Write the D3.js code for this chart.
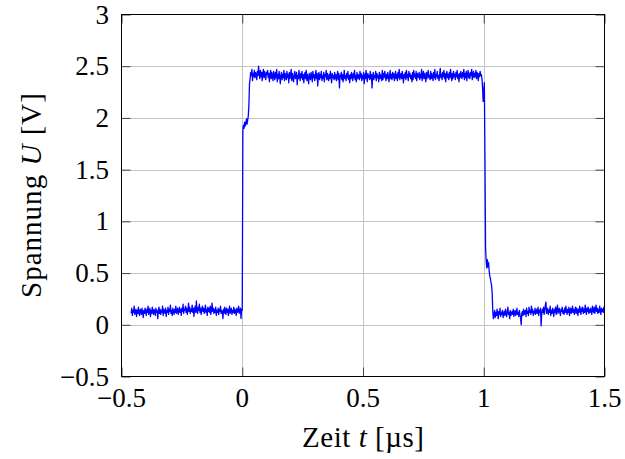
<!DOCTYPE html>
<html>
<head>
<meta charset="utf-8">
<script src="https://cdn.jsdelivr.net/npm/d3@7"></script>
<style>
  html, body { margin: 0; padding: 0; background: #fff; }
  svg { display: block; }
  text { font-family: "Liberation Serif", "DejaVu Serif", serif; }
</style>
</head>
<body>
<svg id="chart" width="625" height="459"></svg>
<script>
// ---------------- data ----------------
const xTicks = [-0.5, 0, 0.5, 1, 1.5];
const xTickLabels = ["\u22120.5", "0", "0.5", "1", "1.5"];
const yTicks = [-0.5, 0, 0.5, 1, 1.5, 2, 2.5, 3];
const yTickLabels = ["\u22120.5", "0", "0.5", "1", "1.5", "2", "2.5", "3"];

const sampleStep = 0.0025;         // µs between oscilloscope samples
const firstSampleTime = -0.46;     // µs

// t = -0.46 … 0.000
const baselineBefore = [
  0.11,0.16,0.09,0.14,0.12,0.18,0.10,0.13,0.15,0.08,
  0.14,0.11,0.17,0.12,0.09,0.15,0.13,0.10,0.16,0.12,
  0.07,0.14,0.11,0.16,0.13,0.09,0.15,0.12,0.18,0.10,
  0.13,0.16,0.08,0.14,0.11,0.17,0.12,0.10,0.15,0.13,
  0.09,0.16,0.12,0.14,0.06,0.13,0.17,0.11,0.15,0.10,
  0.14,0.12,0.18,0.09,0.15,0.13,0.11,0.16,0.08,0.14,
  0.12,0.17,0.10,0.15,0.13,0.19,0.11,0.14,0.09,0.16,
  0.13,0.10,0.15,0.12,0.18,0.11,0.14,0.16,0.10,0.13,
  0.17,0.12,0.15,0.09,0.16,0.13,0.20,0.11,0.15,0.14,
  0.18,0.12,0.16,0.10,0.14,0.21,0.13,0.17,0.11,0.15,
  0.13,0.19,0.12,0.16,0.08,0.15,0.18,0.12,0.23,0.14,
  0.11,0.17,0.14,0.20,0.12,0.16,0.10,0.15,0.18,0.13,
  0.16,0.11,0.14,0.19,0.12,0.15,0.09,0.17,0.13,0.16,
  0.12,0.18,0.10,0.14,0.21,0.13,0.16,0.11,0.15,0.12,
  0.17,0.09,0.14,0.12,0.16,0.10,0.15,0.13,0.18,0.11,
  0.14,0.12,0.06,0.15,0.11,0.17,0.13,0.10,0.16,0.12,
  0.15,0.09,0.14,0.18,0.11,0.13,0.16,0.10,0.14,0.12,
  0.17,0.11,0.15,0.13,0.09,0.16,0.12,0.14,0.18,0.11,
  0.13,0.16,0.06,0.15,0.14
];
// t = 0.0025 … 0.030
const riseEdge = [1.88,1.93,1.90,1.96,1.92,1.95,1.99,1.94,1.98,2.02,2.12,2.33];
// t = 0.0325 … 0.9875
const plateau = [
  2.38,2.44,2.41,2.47,2.36,2.43,2.40,2.46,2.39,2.44,
  2.42,2.37,2.45,2.41,2.50,2.43,2.38,2.46,2.40,2.44,
  2.36,2.43,2.47,2.39,2.45,2.41,2.37,2.44,2.42,2.46,
  2.39,2.43,2.35,2.42,2.46,2.38,2.44,2.40,2.36,2.45,
  2.41,2.37,2.44,2.39,2.47,2.35,2.42,2.38,2.45,2.40,
  2.33,2.41,2.44,2.37,2.42,2.39,2.46,2.36,2.43,2.40,
  2.37,2.45,2.39,2.42,2.34,2.44,2.38,2.41,2.47,2.36,
  2.43,2.39,2.35,2.42,2.45,2.38,2.40,2.44,2.32,2.41,
  2.38,2.46,2.40,2.36,2.43,2.39,2.45,2.37,2.42,2.34,
  2.41,2.44,2.38,2.46,2.36,2.42,2.39,2.33,2.43,2.40,
  2.37,2.44,2.41,2.35,2.45,2.39,2.42,2.36,2.40,2.46,
  2.38,2.43,2.31,2.40,2.44,2.37,2.42,2.39,2.45,2.36,
  2.41,2.38,2.44,2.35,2.42,2.40,2.46,2.37,2.43,2.39,
  2.36,2.42,2.38,2.45,2.40,2.34,2.43,2.39,2.41,2.37,
  2.44,2.38,2.42,2.36,2.40,2.45,2.37,2.43,2.29,2.41,
  2.39,2.44,2.37,2.42,2.35,2.40,2.46,2.38,2.41,2.36,
  2.43,2.39,2.45,2.37,2.41,2.34,2.42,2.38,2.44,2.40,
  2.36,2.43,2.39,2.46,2.37,2.41,2.35,2.44,2.38,2.42,
  2.40,2.37,2.45,2.39,2.43,2.36,2.41,2.38,2.44,2.33,
  2.42,2.38,2.46,2.40,2.35,2.43,2.39,2.41,2.37,2.45,
  2.38,2.42,2.29,2.40,2.44,2.37,2.41,2.39,2.45,2.36,
  2.43,2.39,2.41,2.35,2.44,2.38,2.42,2.40,2.36,2.46,
  2.37,2.43,2.39,2.45,2.41,2.36,2.42,2.38,2.44,2.40,
  2.35,2.41,2.46,2.38,2.42,2.37,2.44,2.39,2.43,2.36,
  2.40,2.45,2.38,2.42,2.36,2.44,2.39,2.47,2.37,2.41,
  2.43,2.38,2.45,2.40,2.34,2.42,2.39,2.44,2.37,2.46,
  2.39,2.42,2.36,2.45,2.40,2.43,2.38,2.41,2.35,2.44,
  2.37,2.46,2.40,2.42,2.38,2.45,2.36,2.43,2.41,2.39,
  2.44,2.37,2.42,2.39,2.47,2.36,2.41,2.45,2.38,2.43,
  2.40,2.35,2.44,2.38,2.42,2.46,2.39,2.41,2.37,2.45,
  2.38,2.43,2.40,2.36,2.44,2.39,2.47,2.37,2.42,2.40,
  2.45,2.38,2.41,2.36,2.43,2.48,2.39,2.42,2.37,2.44,
  2.40,2.46,2.38,2.43,2.35,2.41,2.45,2.39,2.42,2.37,
  2.44,2.39,2.47,2.41,2.36,2.43,2.38,2.45,2.40,2.42,
  2.37,2.44,2.40,2.46,2.38,2.42,2.35,2.43,2.39,2.45,
  2.41,2.38,2.44,2.40,2.47,2.37,2.43,2.39,2.45,2.36,
  2.42,2.46,2.39,2.43,2.38,2.44,2.41,2.47,2.37,2.42,
  2.45,2.39,2.43,2.40,2.46,2.38,2.44,2.41,2.36,2.43,
  2.40,2.45,2.41
];
// t = 0.990 … 1.040
const fallEdge = [2.42,2.38,2.30,2.16,2.25,2.34,1.60,0.75,0.62,0.55,
                  0.63,0.56,0.60,0.52,0.47,0.45,0.41,0.38,0.30,0.12,0.06];
// t = 1.0425 … 1.500
const baselineAfter = [
  0.10,0.14,0.07,0.12,0.09,0.15,0.11,0.06,0.13,0.10,
  0.16,0.08,0.12,0.10,0.14,0.07,0.11,0.13,0.09,0.15,
  0.11,0.08,0.13,0.17,0.10,0.12,0.06,0.14,0.09,0.11,
  0.13,0.10,0.15,0.08,0.12,0.14,0.09,0.11,0.16,0.10,
  0.12,0.08,0.14,0.10,0.07,0.00,0.11,0.13,0.09,0.15,
  0.10,0.12,0.14,0.08,0.16,0.11,0.13,0.09,0.17,0.12,
  0.14,0.10,0.18,0.12,0.15,0.09,0.13,0.11,0.16,0.10,
  0.13,0.15,0.11,0.17,0.09,0.14,0.12,0.16,-0.01,0.10,
  0.15,0.12,0.17,0.10,0.14,0.19,0.22,0.11,0.16,0.13,
  0.10,0.15,0.12,0.18,0.09,0.14,0.11,0.16,0.13,0.08,
  0.15,0.12,0.17,0.10,0.14,0.19,0.11,0.13,0.16,0.12,
  0.09,0.15,0.13,0.17,0.11,0.14,0.10,0.16,0.12,0.18,
  0.13,0.10,0.15,0.12,0.17,0.09,0.14,0.16,0.11,0.13,
  0.18,0.12,0.15,0.10,0.14,0.17,0.11,0.16,0.13,0.09,
  0.15,0.12,0.18,0.14,0.10,0.16,0.13,0.17,0.11,0.15,
  0.12,0.19,0.14,0.10,0.16,0.13,0.17,0.11,0.15,0.12,
  0.16,0.13,0.10,0.18,0.14,0.12,0.17,0.11,0.15,0.19,
  0.13,0.16,0.11,0.15,0.12,0.18,0.14,0.10,0.16,0.13,
  0.15,0.12,0.17,0.14
];

// ---------------- layout ----------------
const svg = d3.select("#chart");
const L = 121.5, R = 604.5, T = 14.5, B = 376.5;
const tickFS = 27, titleFS = 29;

const x = d3.scaleLinear().domain([-0.5, 1.5]).range([L, R]);
const y = d3.scaleLinear().domain([-0.5, 3]).range([B, T]);

const voltages = [].concat(baselineBefore, riseEdge, plateau, fallEdge, baselineAfter);
const samples = voltages.map((v, i) => ({ t: firstSampleTime + i * sampleStep, v }));

// grid
const grid = svg.append("g").attr("stroke", "#c4c4c4").attr("stroke-width", 1);
grid.selectAll("line.gx").data(xTicks.slice(1, -1)).join("line")
  .attr("x1", d => Math.round(x(d)) + 0.5).attr("x2", d => Math.round(x(d)) + 0.5)
  .attr("y1", T).attr("y2", B);
grid.selectAll("line.gy").data(yTicks.slice(1, -1)).join("line")
  .attr("y1", d => Math.round(y(d)) + 0.5).attr("y2", d => Math.round(y(d)) + 0.5)
  .attr("x1", L).attr("x2", R);

// ticks (inward, all sides)
const tickLen = 9;
function styleTicks(g) {
  g.select(".domain").remove();
  g.selectAll(".tick line").attr("stroke", "#444").attr("stroke-width", 1);
}
svg.append("g").attr("transform", `translate(0,${B})`)
  .call(d3.axisBottom(x).tickValues(xTicks).tickSize(-tickLen).tickFormat(""))
  .call(styleTicks);
svg.append("g").attr("transform", `translate(0,${T})`)
  .call(d3.axisTop(x).tickValues(xTicks).tickSize(-tickLen).tickFormat(""))
  .call(styleTicks);
svg.append("g").attr("transform", `translate(${L},0)`)
  .call(d3.axisLeft(y).tickValues(yTicks).tickSize(-tickLen).tickFormat(""))
  .call(styleTicks);
svg.append("g").attr("transform", `translate(${R},0)`)
  .call(d3.axisRight(y).tickValues(yTicks).tickSize(-tickLen).tickFormat(""))
  .call(styleTicks);

// signal
const line = d3.line().x(d => x(d.t)).y(d => y(d.v));
svg.append("path").datum(samples)
  .attr("fill", "none").attr("stroke", "#0000ff").attr("stroke-width", 1.3)
  .attr("stroke-linejoin", "round")
  .attr("d", line);

// frame
svg.append("rect").attr("x", L).attr("y", T).attr("width", R - L).attr("height", B - T)
  .attr("fill", "none").attr("stroke", "#000").attr("stroke-width", 1);

// tick labels
svg.append("g").selectAll("text").data(xTicks).join("text")
  .attr("x", d => x(d)).attr("y", 407)
  .attr("text-anchor", "middle").attr("font-size", tickFS).attr("fill", "#000")
  .text((d, i) => xTickLabels[i]);
svg.append("g").selectAll("text").data(yTicks).join("text")
  .attr("x", 109).attr("y", d => y(d) + 9)
  .attr("text-anchor", "end").attr("font-size", tickFS).attr("fill", "#000")
  .text((d, i) => yTickLabels[i]);

// axis titles
const xt = svg.append("text").attr("x", (L + R) / 2).attr("y", 447)
  .attr("text-anchor", "middle").attr("font-size", titleFS).attr("fill", "#000")
  .attr("textLength", 122).attr("lengthAdjust", "spacing");
xt.append("tspan").text("Zeit ");
xt.append("tspan").attr("font-style", "italic").text("t");
xt.append("tspan").text(" [\u00b5s]");

const yt = svg.append("text")
  .attr("transform", `translate(41,${(T + B) / 2}) rotate(-90)`)
  .attr("text-anchor", "middle").attr("font-size", titleFS).attr("fill", "#000")
  .attr("textLength", 205).attr("lengthAdjust", "spacing");
yt.append("tspan").text("Spannung ");
yt.append("tspan").attr("font-style", "italic").text("U");
yt.append("tspan").text(" [V]");
</script>
</body>
</html>
